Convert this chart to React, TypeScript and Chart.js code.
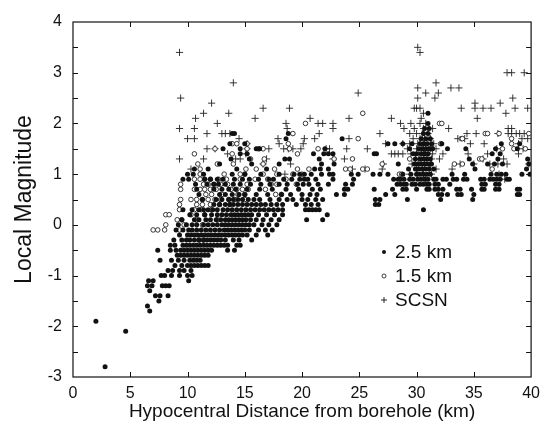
import { useEffect, useRef } from "react";
import { Chart, registerables } from "chart.js";

Chart.register(...registerables);

const seriesLabels = ["2.5 km", "1.5 km", "SCSN"];
const xTitle = "Hypocentral Distance from borehole (km)";
const yTitle = "Local Magnitude";
const xLimits = [0, 40];
const yLimits = [-3, 4];
const xTickStep = 5;
const yTickStep = 1;
const yMinorStep = 0.5;

type Row = [number, number[]];

// [magnitude, distances (km)] for the 2.5 km borehole sensor
const km25Rows: Row[] = [
  [-2.8, [2.8]],
  [-2.1, [4.6]],
  [-1.9, [2.0]],
  [-1.7, [6.7]],
  [-1.6, [6.5]],
  [-1.5, [7.5]],
  [-1.4, [7.2, 7.6, 8.3]],
  [-1.3, [6.7]],
  [-1.2, [6.5, 6.9, 7.8, 8.1, 8.4]],
  [-1.1, [6.6, 7.0, 10.1]],
  [-1.0, [7.7, 8.0, 8.6, 9.3, 10.0, 10.4]],
  [-0.9, [8.3, 8.7, 9.3, 9.7, 10.3]],
  [-0.8, [8.9, 9.5, 10.0, 10.3, 10.6, 10.9, 11.2, 11.5, 11.8]],
  [-0.7, [7.6, 8.6, 9.2, 9.7, 10.2, 10.5, 10.8, 11.1]],
  [-0.6, [9.1, 9.4, 9.7, 10.0, 10.3, 10.6, 10.9, 11.2, 11.5, 11.8]],
  [-0.5, [7.4, 8.5, 9.0, 9.4, 9.7, 10.0, 10.3, 10.6, 10.9, 11.2, 11.5, 11.8, 12.1, 13.5, 14.1]],
  [-0.4, [8.5, 8.9, 9.6, 9.9, 10.2, 10.5, 10.8, 11.1, 11.4, 11.7, 12.0, 12.3, 12.6, 12.9, 13.2, 13.5, 14.3, 14.6]],
  [-0.3, [8.8, 9.5, 9.9, 10.2, 10.6, 11.0, 11.4, 11.7, 12.0, 12.3, 12.6, 12.9, 13.3, 14.0, 14.5, 15.6]],
  [-0.2, [9.3, 10.0, 10.3, 10.6, 10.9, 11.2, 11.5, 11.8, 12.1, 12.4, 12.7, 13.0, 13.3, 13.6, 13.9, 14.2, 14.5, 14.8, 15.2, 16.0, 17.0]],
  [-0.1, [9.0, 9.6, 10.1, 10.4, 10.8, 11.2, 11.6, 12.0, 12.4, 12.8, 13.2, 13.5, 13.8, 14.1, 14.4, 14.7, 15.0, 15.4, 16.2, 16.8, 17.4]],
  [0.0, [9.2, 9.9, 10.4, 10.8, 11.4, 11.8, 12.2, 12.6, 13.0, 13.3, 13.6, 13.9, 14.2, 14.5, 14.8, 15.1, 15.4, 15.8, 16.5, 17.1, 17.8]],
  [0.1, [9.5, 10.6, 11.0, 11.6, 12.0, 12.5, 12.9, 13.3, 13.6, 13.9, 14.2, 14.5, 14.8, 15.1, 15.5, 16.0, 16.6, 17.3, 18.0, 20.4, 21.8]],
  [0.2, [10.2, 10.8, 11.5, 12.1, 12.6, 13.0, 13.4, 13.8, 14.1, 14.4, 14.7, 15.0, 15.3, 15.6, 16.2, 16.9, 17.6, 18.3, 22.2]],
  [0.3, [9.6, 10.4, 11.0, 11.4, 11.8, 12.2, 12.6, 13.1, 13.5, 13.9, 14.3, 14.7, 15.1, 15.5, 15.9, 16.3, 16.7, 17.1, 17.5, 17.9, 18.3, 20.3, 20.6, 20.9, 21.2, 21.5, 30.6]],
  [0.4, [12.3, 12.8, 13.3, 13.7, 14.0, 14.4, 14.8, 15.2, 15.6, 16.0, 16.4, 16.8, 17.3, 17.8, 18.3, 19.5, 20.3, 20.8, 21.4, 26.4, 26.7]],
  [0.5, [11.3, 12.5, 13.0, 13.6, 14.0, 14.4, 14.8, 15.3, 15.8, 16.3, 17.2, 18.0, 18.7, 19.2, 20.0, 20.5, 21.2, 21.8, 26.4, 26.8, 29.2, 32.1, 34.9]],
  [0.6, [11.0, 12.8, 13.3, 13.9, 14.5, 15.0, 16.0, 17.0, 18.2, 19.0, 20.0, 20.7, 21.3, 23.0, 23.7, 27.3, 28.1, 31.9, 32.2, 32.7, 33.6, 33.9, 35.0, 38.8, 39.0]],
  [0.7, [10.8, 12.3, 13.0, 13.6, 14.2, 15.2, 16.3, 17.4, 18.6, 19.7, 20.9, 21.6, 23.7, 24.0, 26.3, 27.9, 28.8, 29.1, 30.0, 30.9, 31.1, 31.6, 31.9, 32.3, 33.5, 33.8, 34.8, 35.7, 35.9, 36.9, 37.2, 38.8, 39.0]],
  [0.8, [10.7, 11.7, 12.3, 12.7, 13.3, 14.0, 14.6, 15.5, 16.4, 17.2, 18.0, 18.7, 19.6, 20.1, 20.6, 21.4, 22.3, 23.8, 24.4, 28.3, 28.6, 28.9, 29.1, 29.6, 29.9, 30.3, 30.6, 30.9, 31.1, 31.6, 31.9, 32.9, 35.7, 36.0, 36.9, 37.2]],
  [0.9, [9.6, 10.1, 11.5, 12.0, 12.6, 13.1, 14.1, 14.8, 15.4, 16.2, 17.1, 17.5, 18.4, 19.1, 19.8, 20.2, 20.5, 21.2, 22.7, 24.5, 28.0, 28.4, 28.6, 28.9, 29.4, 29.7, 30.1, 30.4, 30.7, 31.0, 31.5, 31.7, 32.3, 32.6, 33.2, 33.5, 34.1, 34.4, 35.6, 35.9, 36.4, 36.7, 37.0, 37.3, 37.9, 38.1]],
  [1.0, [10.0, 10.5, 11.4, 13.9, 15.0, 16.4, 18.0, 19.3, 19.8, 20.2, 20.8, 21.7, 22.4, 22.7, 24.3, 24.9, 26.2, 26.8, 27.5, 28.8, 29.5, 30.0, 30.3, 30.6, 30.9, 31.2, 33.1, 34.2, 36.5, 37.0, 37.4, 37.8, 39.2, 39.9]],
  [1.1, [10.6, 11.8, 14.3, 16.9, 21.1, 21.6, 22.3, 29.3, 29.9, 30.2, 30.5, 30.8, 31.1, 31.5, 35.1, 39.6]],
  [1.2, [12.8, 15.6, 18.0, 21.7, 22.8, 28.4, 29.8, 30.1, 30.4, 30.7, 31.0, 31.3, 34.9, 36.2, 36.8, 37.5, 39.8]],
  [1.3, [13.8, 15.4, 18.5, 18.9, 21.5, 29.9, 30.3, 30.6, 30.9, 31.2, 34.6, 37.1, 39.7]],
  [1.4, [14.6, 15.2, 21.0, 21.9, 22.3, 22.7, 26.3, 26.5, 29.7, 30.0, 30.4, 30.7, 31.0, 36.6, 37.3]],
  [1.5, [13.1, 14.6, 16.0, 16.3, 22.0, 29.4, 30.2, 30.5, 30.8, 31.1, 31.4, 32.7, 34.3, 36.9, 38.8]],
  [1.6, [13.7, 15.0, 27.5, 28.1, 28.8, 29.6, 30.3, 30.6, 30.9, 31.3, 32.2, 37.4, 39.0]],
  [1.7, [18.6, 23.5, 30.4, 30.8, 31.2]],
  [1.8, [13.9, 14.1, 18.8, 30.6, 31.0]],
  [1.9, [30.7, 31.1]],
  [2.0, [31.0]],
  [2.2, [31.0]],
];

// [magnitude, distances (km)] for the 1.5 km borehole sensor
const km15Rows: Row[] = [
  [-0.3, [11.0, 11.4]],
  [-0.1, [7.0, 7.4, 8.0, 9.3]],
  [0.0, [8.1, 9.7, 11.3]],
  [0.1, [9.1, 9.5, 10.8, 12.6]],
  [0.2, [8.1, 8.4, 10.3, 11.5]],
  [0.3, [9.3, 10.6, 11.2, 12.1]],
  [0.4, [9.3, 10.8, 11.3, 12.0, 12.8, 13.7]],
  [0.5, [9.4, 10.3, 10.8, 11.3, 11.8, 12.4, 12.9, 13.6, 14.1, 15.0]],
  [0.6, [11.6, 12.1, 13.0, 14.4, 15.0, 17.7, 18.2]],
  [0.7, [9.4, 10.6, 11.1, 11.5, 12.0, 12.5, 13.8, 14.3, 14.8, 15.3, 16.8]],
  [0.8, [9.4, 11.4, 11.8, 12.3, 12.9, 13.5, 15.2, 17.3, 17.8, 19.5]],
  [0.9, [10.6, 11.1, 11.5, 12.0, 12.7, 13.4, 14.6, 15.9, 17.0, 18.6]],
  [1.0, [11.1, 13.2, 14.6, 15.0, 16.6, 17.8, 19.2, 20.0, 28.5, 28.7]],
  [1.1, [11.1, 15.1, 16.0, 17.6, 19.6, 20.6, 23.8, 24.2, 25.3, 25.7, 36.6]],
  [1.2, [10.9, 12.6, 14.0, 16.6, 27.0, 33.3, 34.0]],
  [1.3, [15.5, 16.7, 22.8, 24.4, 29.4, 35.5, 35.7]],
  [1.4, [10.6, 13.9, 19.6, 30.7]],
  [1.5, [12.4, 15.2, 16.2, 16.6, 18.9, 21.4, 31.3, 37.5, 38.5, 39.5]],
  [1.6, [13.9, 14.3, 15.2, 18.8, 32.1, 38.3]],
  [1.7, [24.9, 33.9, 34.0, 38.3]],
  [1.8, [19.2, 36.0, 36.2, 37.2, 39.8]],
  [2.0, [20.3, 32.0, 32.2]],
  [2.2, [25.3]],
];

// [magnitude, distances (km)] for the SCSN catalogue
const scsnRows: Row[] = [
  [3.5, [30.1]],
  [3.4, [9.3, 30.3]],
  [3.0, [37.9, 38.3, 39.4]],
  [2.8, [14.0, 31.7]],
  [2.7, [30.1, 33.0, 33.7]],
  [2.6, [24.9, 30.8, 31.9]],
  [2.5, [9.4, 30.1, 31.6, 38.4]],
  [2.4, [12.1, 35.1, 37.3]],
  [2.3, [16.6, 18.9, 29.8, 30.0, 30.3, 33.9, 35.1, 35.8, 36.5, 38.6, 39.7]],
  [2.2, [11.4, 13.6, 30.6, 37.8]],
  [2.1, [10.7, 15.9, 20.7, 24.1, 27.8, 30.4, 35.3]],
  [2.0, [12.6, 18.6, 21.4, 21.8, 22.7, 28.6, 29.5, 30.3, 30.8]],
  [1.9, [9.3, 10.6, 18.7, 22.7, 28.9, 29.8, 30.6, 31.4, 32.8, 38.0, 38.3]],
  [1.8, [11.7, 13.0, 13.3, 13.7, 21.5, 26.8, 29.4, 30.0, 30.5, 31.0, 34.4, 35.2, 37.1, 38.0, 38.3, 38.7, 39.0, 39.4]],
  [1.7, [10.0, 10.6, 14.5, 17.9, 20.2, 21.1, 24.1, 29.7, 30.3, 30.7, 31.2, 33.6, 34.2, 39.2, 39.7]],
  [1.6, [15.2, 18.0, 20.1, 27.3, 28.8, 29.4, 30.1, 30.6, 31.0, 31.5, 34.7, 35.9, 38.9]],
  [1.5, [11.7, 12.4, 15.2, 17.1, 18.4, 18.8, 19.2, 19.9, 22.1, 22.4, 23.9, 25.7, 29.2, 30.0, 30.4, 30.8, 31.2, 31.7, 37.0, 39.3]],
  [1.4, [13.5, 15.1, 27.8, 28.1, 28.4, 28.8, 29.5, 30.2, 30.6, 31.0, 31.4, 32.3, 34.5, 36.2, 38.9]],
  [1.3, [9.3, 11.4, 14.2, 14.6, 16.9, 22.7, 23.7, 29.9, 30.4, 30.9, 31.3, 32.0, 35.8, 37.6]],
  [1.2, [16.6, 19.0, 27.1, 29.6, 30.2, 30.7, 31.2, 33.8, 35.0, 36.4, 37.1, 37.9, 39.8]],
  [1.1, [10.3, 24.4, 25.5, 27.0, 30.0, 30.5, 31.1, 31.7, 33.1]],
  [1.0, [18.5, 29.4, 30.1, 30.6, 31.3, 37.2]],
  [0.9, [30.8, 37.7]],
];

const toPoints = (rows: Row[]) =>
  rows.flatMap(([m, ds]) => ds.map((d) => ({ x: d, y: m })));

const FONT = "'Liberation Sans', Arial, Helvetica, sans-serif";

const framePlugin = {
  id: "frameTicks",
  beforeDatasetsDraw(chart: any) {
    const { ctx, chartArea: a, scales } = chart;
    const xs = scales.x;
    const ys = scales.y;
    const tl = 5;
    ctx.save();
    ctx.strokeStyle = "#111";
    ctx.lineWidth = 1.2;
    ctx.strokeRect(a.left, a.top, a.right - a.left, a.bottom - a.top);
    ctx.lineWidth = 1;
    ctx.beginPath();
    for (let v = xLimits[0] + xTickStep; v < xLimits[1]; v += xTickStep) {
      const px = Math.round(xs.getPixelForValue(v)) + 0.5;
      ctx.moveTo(px, a.bottom);
      ctx.lineTo(px, a.bottom - tl);
      ctx.moveTo(px, a.top);
      ctx.lineTo(px, a.top + tl);
    }
    for (let v = yLimits[0] + yMinorStep; v < yLimits[1] - 1e-9; v += yMinorStep) {
      const py = Math.round(ys.getPixelForValue(v)) + 0.5;
      ctx.moveTo(a.left, py);
      ctx.lineTo(a.left + tl, py);
      ctx.moveTo(a.right, py);
      ctx.lineTo(a.right - tl, py);
    }
    ctx.stroke();
    ctx.restore();
  },
};

const legendPlugin = {
  id: "insetLegend",
  afterDraw(chart: any) {
    const { ctx, chartArea: a } = chart;
    const mx = a.left + 311;
    const tx = a.left + 322;
    const y0 = a.top + 230;
    const gap = 24;
    ctx.save();
    ctx.font = `19px ${FONT}`;
    ctx.textBaseline = "middle";
    chart.data.datasets.forEach((ds: any, i: number) => {
      const y = y0 + i * gap;
      ctx.strokeStyle = "#111";
      ctx.fillStyle = "#111";
      if (i === 0) {
        ctx.beginPath();
        ctx.arc(mx, y, 2, 0, Math.PI * 2);
        ctx.fill();
      } else if (i === 1) {
        ctx.beginPath();
        ctx.lineWidth = 0.8;
        ctx.arc(mx, y, 2, 0, Math.PI * 2);
        ctx.stroke();
      } else {
        ctx.beginPath();
        ctx.lineWidth = 0.9;
        ctx.moveTo(mx - 3, y);
        ctx.lineTo(mx + 3, y);
        ctx.moveTo(mx, y - 3);
        ctx.lineTo(mx, y + 3);
        ctx.stroke();
      }
      ctx.fillStyle = "#111";
      ctx.fillText(ds.label, tx, y + 1);
    });
    ctx.restore();
  },
};

export default function App() {
  const ref = useRef<HTMLCanvasElement | null>(null);

  useEffect(() => {
    if (!ref.current) return;
    const chart = new Chart(ref.current, {
      type: "scatter",
      data: {
        datasets: [
          {
            label: seriesLabels[0],
            data: toPoints(km25Rows),
            pointStyle: "circle",
            pointRadius: 2.5,
            backgroundColor: "#111",
            borderColor: "#111",
            borderWidth: 0,
          },
          {
            label: seriesLabels[1],
            data: toPoints(km15Rows),
            pointStyle: "circle",
            pointRadius: 2.3,
            backgroundColor: "#fff",
            borderColor: "#222",
            borderWidth: 0.9,
          },
          {
            label: seriesLabels[2],
            data: toPoints(scsnRows),
            pointStyle: "cross",
            pointRadius: 3.6,
            backgroundColor: "#222",
            borderColor: "#222",
            borderWidth: 0.9,
          },
        ],
      },
      options: {
        responsive: false,
        animation: false,
        layout: { padding: { top: 22, right: 9, left: 0, bottom: 0 } },
        plugins: {
          legend: { display: false },
          tooltip: { enabled: false },
        },
        scales: {
          x: {
            type: "linear",
            min: xLimits[0],
            max: xLimits[1],
            grid: { display: false, drawTicks: false },
            border: { display: false },
            ticks: {
              stepSize: xTickStep,
              color: "#111",
              font: { family: FONT, size: 16 },
              padding: 7,
              maxRotation: 0,
            },
            title: {
              display: true,
              text: xTitle,
              color: "#111",
              font: { family: FONT, size: 19 },
              padding: { top: 0, bottom: 1 },
            },
            afterFit: (s: any) => {
              s.height = 47;
            },
          },
          y: {
            type: "linear",
            min: yLimits[0],
            max: yLimits[1],
            grid: { display: false, drawTicks: false },
            border: { display: false },
            ticks: {
              stepSize: yTickStep,
              color: "#111",
              font: { family: FONT, size: 16 },
              padding: 11,
            },
            title: {
              display: true,
              text: yTitle,
              color: "#111",
              font: { family: FONT, size: 23 },
              padding: { top: 11, bottom: 0 },
            },
            afterFit: (s: any) => {
              s.width = 73;
            },
          },
        },
      },
      plugins: [framePlugin, legendPlugin],
    });
    return () => chart.destroy();
  }, []);

  return (
    <div style={{ position: "absolute", left: 0, top: 0, width: 547, height: 424, background: "#fff" }}>
      <canvas ref={ref} width={547} height={424} />
    </div>
  );
}
